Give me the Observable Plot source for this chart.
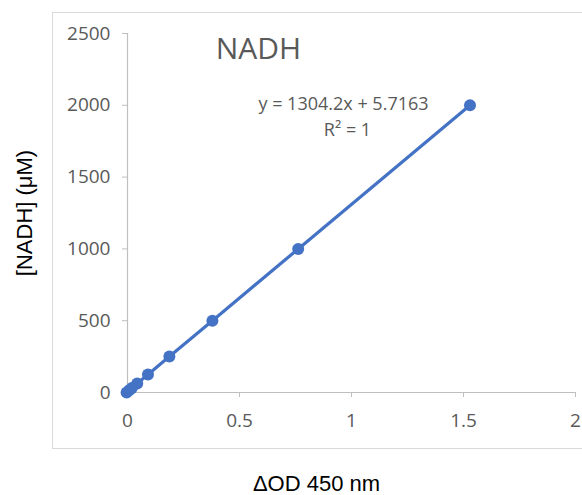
<!DOCTYPE html>
<html>
<head>
<meta charset="utf-8">
<script src="https://cdn.jsdelivr.net/npm/d3@7"></script>
<script src="https://cdn.jsdelivr.net/npm/@observablehq/plot@0.6"></script>
<style>
  html, body { margin: 0; padding: 0; background: #fff; }
  #wrap { position: relative; width: 582px; height: 495px; overflow: hidden; }
  #box { position: absolute; left: 52px; top: 12px; width: 600px; height: 435px; border: 1.5px solid #d9d9d9; }
  #wrap svg { position: absolute; left: 0; top: 0; background: transparent; }
</style>
</head>
<body>
<div id="wrap"><div id="box"></div></div>
<script>
// NADH standard curve
const od = [-0.004, 0.0076, 0.0196, 0.0435, 0.0915, 0.187, 0.379, 0.762, 1.529];
const nadh = [0, 15.6, 31.25, 62.5, 125, 250, 500, 1000, 2000];
const xTicks = [0, 0.5, 1, 1.5, 2];
const yTicks = [0, 500, 1000, 1500, 2000, 2500];
const titleText = "NADH";
const eqText = "y = 1304.2x + 5.7163";
const r2Text = "R² = 1";
const xLabel = "ΔOD 450 nm";
const yLabel = "[NADH] (μM)";

const data = od.map((x, i) => ({x, y: nadh[i]}));
const blue = "#4472C4";
const grey = "#595959";
const tickFont = "'Open Sans', sans-serif";

const chart = Plot.plot({
  width: 582,
  height: 495,
  marginLeft: 127,
  marginRight: 7,
  marginTop: 33,
  marginBottom: 103,
  style: {background: "transparent", overflow: "visible"},
  x: {domain: [0, 2]},
  y: {domain: [0, 2500]},
  marks: [
    Plot.ruleX([0], {y1: 0, y2: 2500, stroke: "#bfbfbf", strokeWidth: 1.2}),
    Plot.ruleY([0], {x1: 0, x2: 2, stroke: "#bfbfbf", strokeWidth: 1.2}),
    Plot.axisY({ticks: yTicks, tickFormat: d => String(d), tickSize: 5, tickPadding: 12,
      stroke: "#bfbfbf", fill: grey, fontSize: 19, fontFamily: tickFont, label: null}),
    Plot.axisX({ticks: xTicks, tickFormat: d => String(d), tickSize: 5, tickPadding: 16,
      stroke: "#bfbfbf", fill: grey, fontSize: 19, fontFamily: tickFont, label: null}),
    Plot.line(data, {x: "x", y: "y", stroke: blue, strokeWidth: 3.2}),
    Plot.dot(data, {x: "x", y: "y", r: 6, fill: blue, stroke: null}),
    Plot.text([titleText], {frameAnchor: "top-left", lineAnchor: "middle", textAnchor: "middle",
      dx: 131, dy: 16, fontSize: 30, fontFamily: tickFont, fill: grey}),
    Plot.text([eqText], {frameAnchor: "top-left", lineAnchor: "middle", textAnchor: "middle",
      dx: 216, dy: 71, fontSize: 18, fontFamily: tickFont, fill: grey}),
    Plot.text([r2Text], {frameAnchor: "top-left", lineAnchor: "middle", textAnchor: "middle",
      dx: 220, dy: 97, fontSize: 18, fontFamily: tickFont, fill: grey}),
    Plot.text([xLabel], {frameAnchor: "bottom", lineAnchor: "middle", textAnchor: "middle",
      dx: -35, dy: 91, fontSize: 22, fontFamily: "'Liberation Sans', Arial, sans-serif", fill: "#000"}),
    Plot.text([yLabel], {frameAnchor: "left", lineAnchor: "middle", textAnchor: "middle", rotate: -90,
      dx: -103, dy: 0, fontSize: 22, fontFamily: "'Liberation Sans', Arial, sans-serif", fill: "#000"})
  ]
});
document.getElementById("wrap").appendChild(chart);
</script>
</body>
</html>
